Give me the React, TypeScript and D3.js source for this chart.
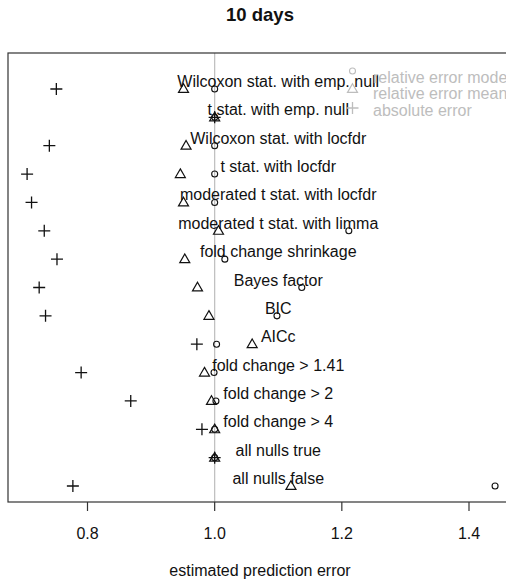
import * as d3 from 'd3';
import React from 'react';

// methods, top to bottom
const methods = [
  'Wilcoxon stat. with emp. null',
  't stat. with emp. null',
  'Wilcoxon stat. with locfdr',
  't stat. with locfdr',
  'moderated t stat. with locfdr',
  'moderated t stat. with limma',
  'fold change shrinkage',
  'Bayes factor',
  'BIC',
  'AICc',
  'fold change > 1.41',
  'fold change > 2',
  'fold change > 4',
  'all nulls true',
  'all nulls false',
];

const relErrorMode = [1.0, 1.0, 1.0, 1.0, 1.0, 1.211, 1.016, 1.137, 1.098, 1.003, 0.999, 1.002, 1.0, 1.0, 1.441];
const relErrorMean = [0.951, 1.0, 0.955, 0.946, 0.951, 1.006, 0.953, 0.973, 0.991, 1.059, 0.984, 0.995, 1.0, 1.0, 1.12];
const absError = [0.751, 1.0, 0.74, 0.705, 0.712, 0.732, 0.752, 0.724, 0.734, 0.972, 0.79, 0.868, 0.98, 1.0, 0.777];

const xTicks = [0.8, 1.0, 1.2, 1.4];
const legendLabels = ['relative error mode', 'relative error mean', 'absolute error'];

const W = 506, H = 579;
const box = { left: 8, top: 53, right: 512, bottom: 502 };
const font = '"Liberation Sans", Arial, sans-serif';
const labelAt = 1.1;

const x = d3.scaleLinear().domain([0.8, 1.4]).range([87.5, 469]);
const y = d3.scaleLinear().domain([1, 15]).range([89, 486]);

const tri = (cx: number, cy: number, s = 10) => {
  const h = s * 0.866;
  return `M${cx},${cy - h * 0.6}L${cx + s / 2},${cy + h * 0.4}L${cx - s / 2},${cy + h * 0.4}Z`;
};
const plus = (cx: number, cy: number, s = 6) =>
  `M${cx - s},${cy}H${cx + s}M${cx},${cy - s}V${cy + s}`;

export default function App() {
  const fmt = d3.format('.1f');
  const legendSymY = [71, 89, 108];
  const legendTextY = [83, 99, 116];
  const grey = '#bdbdbd';

  return (
    <svg width={W} height={H} style={{ position: 'absolute', left: 0, top: 0, background: '#fff' }}
      fontFamily={font}>
      <text x={(box.left + box.right) / 2} y={21} textAnchor="middle" fontSize={18.5} fontWeight="bold" fill="#111">
        10 days
      </text>

      <line x1={x(1)} x2={x(1)} y1={box.top} y2={box.bottom} stroke={grey} strokeWidth={1.2} />
      <rect x={box.left} y={box.top} width={box.right - box.left} height={box.bottom - box.top}
        fill="none" stroke="#333" strokeWidth={1.2} />

      {methods.map((m, i) => {
        const cy = y(i + 1);
        return (
          <g key={m}>
            <text x={x(labelAt)} y={cy - 2} textAnchor="middle" fontSize={16} fill="#111">{m}</text>
            <path d={plus(x(absError[i]), cy)} stroke="#111" strokeWidth={1.3} fill="none" />
            <path d={tri(x(relErrorMean[i]), cy)} stroke="#111" strokeWidth={1.2} fill="none" />
            <circle cx={x(relErrorMode[i])} cy={cy} r={3} stroke="#111" strokeWidth={1.1} fill="none" />
          </g>
        );
      })}

      {/* legend */}
      <circle cx={352.5} cy={legendSymY[0]} r={3} stroke={grey} strokeWidth={1.1} fill="none" />
      <path d={tri(352.5, legendSymY[1])} stroke={grey} strokeWidth={1.2} fill="none" />
      <path d={plus(352.5, legendSymY[2])} stroke={grey} strokeWidth={1.3} fill="none" />
      {legendLabels.map((l, i) => (
        <text key={l} x={373} y={legendTextY[i]} fontSize={16} fill={grey}>{l}</text>
      ))}

      {/* x axis */}
      {xTicks.map(t => (
        <g key={t}>
          <line x1={x(t)} x2={x(t)} y1={box.bottom} y2={box.bottom + 9} stroke="#333" strokeWidth={1.2} />
          <text x={x(t)} y={539} textAnchor="middle" fontSize={16} fill="#111">{fmt(t)}</text>
        </g>
      ))}
      <text x={(box.left + box.right) / 2} y={576} textAnchor="middle" fontSize={16} fill="#111">
        estimated prediction error
      </text>
    </svg>
  );
}
